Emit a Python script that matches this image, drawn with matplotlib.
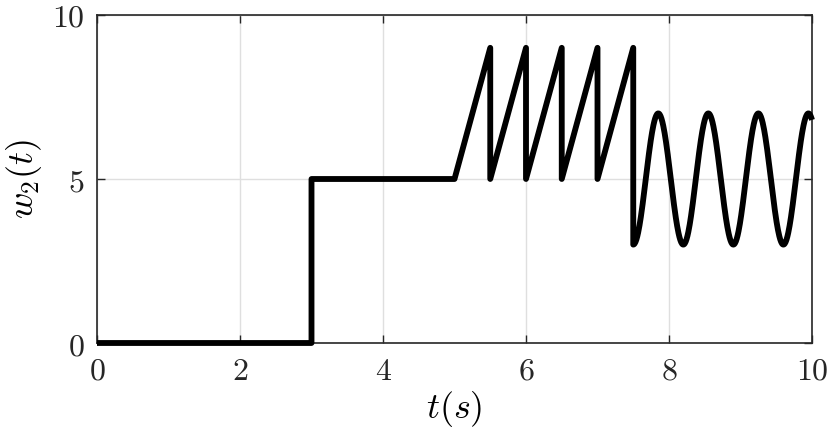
import numpy as np
import matplotlib
matplotlib.use('Agg')
import matplotlib.pyplot as plt
from matplotlib.ticker import FuncFormatter

plt.rcParams['mathtext.fontset'] = 'cm'

# step part
step_t = [0, 3, 3, 5]
step_w = [0, 0, 5, 5]

# sawtooth part (vertices)
saw_t = [5, 5.5, 5.5, 6, 6, 6.5, 6.5, 7, 7, 7.5, 7.5]
saw_w = [5, 9, 5, 9, 5, 9, 5, 9, 5, 9, 3]

# oscillating part: 7.5 -> 10, centre 5, amplitude 2, period ~0.7
osc_start = 7.5
osc_end = 10
osc_center = 5
osc_amp = 2
osc_period = 0.7

x_ticks = [0, 2, 4, 6, 8, 10]
y_ticks = [0, 5, 10]

t_osc = np.linspace(osc_start, osc_end, 400)
w_osc = osc_center - osc_amp * np.cos(2 * np.pi * (t_osc - osc_start) / osc_period)

t_all = np.concatenate([step_t, saw_t, t_osc])
w_all = np.concatenate([step_w, saw_w, w_osc])

fig = plt.figure(figsize=(8.3, 4.38), dpi=100)
ax = fig.add_axes([97 / 830, 95 / 438, 715 / 830, 328 / 438])

ax.plot(t_all, w_all, color='black', linewidth=4.2, clip_on=False, zorder=5,
        solid_joinstyle='round', solid_capstyle='butt')

ax.set_xlim(0, 10)
ax.set_ylim(0, 10)
ax.set_xticks(x_ticks)
ax.set_yticks(y_ticks)
fmt = FuncFormatter(lambda v, p: '$%d$' % v)
ax.xaxis.set_major_formatter(fmt)
ax.yaxis.set_major_formatter(fmt)

ax.grid(True, color='#dfdfdf', linewidth=1.0)
ax.set_axisbelow(True)
for s in ax.spines.values():
    s.set_color('#262626')
    s.set_linewidth(1.2)
ax.tick_params(direction='in', length=6, width=1.0, colors='#262626',
               labelsize=23, pad=9, top=True, right=True)

ax.set_xlabel('$t(s)$', fontsize=26, labelpad=2)
ax.set_ylabel('$w_2(t)$', fontsize=26, labelpad=6)

fig.savefig('out.png', dpi=100)
